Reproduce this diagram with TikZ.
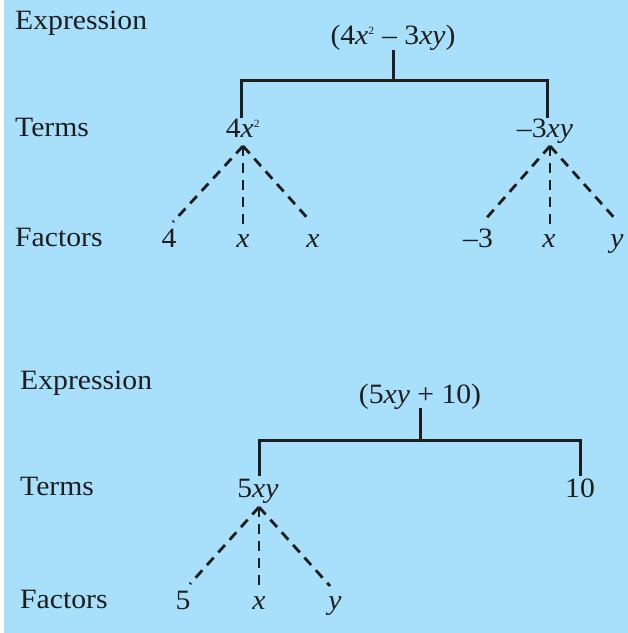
\documentclass[tikz,border=0pt]{standalone}
\usepackage{fontspec}
\setmainfont{Liberation Serif}[FakeStretch=1.06]
\definecolor{bgblue}{RGB}{168,223,250}
\definecolor{ink}{RGB}{30,30,30}
\begin{document}
\begin{tikzpicture}[x=1pt,y=-1pt,
  txt/.style={font=\fontsize{28}{30}\selectfont, inner sep=0pt, text=ink},
  rowlab/.style={txt, anchor=base west},
  item/.style={txt, anchor=base},
  conn/.style={draw=ink, line width=3pt},
  dsh/.style={draw=ink, line width=2.8pt, dash pattern=on 10pt off 7pt}]
\useasboundingbox (0,0) rectangle (628,633);
\fill[white] (0,0) rectangle (628,633);
\fill[bgblue] (4,0) rectangle (628,633);

% ---------- top tree ----------
\node[rowlab] (l1) at (15,29) {Expression};
\node[rowlab] (l2) at (15,136) {Terms};
\node[rowlab] (l3) at (15,246) {Factors};

\node[item] (e1) at (393,44) {(4\textit{x}\textsuperscript{\fontsize{11}{11}\selectfont 2} – 3\textit{xy})};
\node[item] (t1) at (243,137) {4\textit{x}\textsuperscript{\fontsize{11}{11}\selectfont 2}};
\node[item] (t2) at (545,137) {–3\textit{xy}};

\coordinate (e1b) at (393,50);
\coordinate (j1) at (393,80);
\coordinate (j1l) at (241,80);
\coordinate (j1r) at (547,80);
\coordinate (t1t) at (241,118);
\coordinate (t2t) at (547,118);
\draw[conn] (e1b) -- (j1);
\draw[conn] (t1t) -- (j1l) -- (j1r) -- (t2t);

\node[item] (f1) at (169,247) {4};
\node[item] (f2) at (243,247) {\textit{x}};
\node[item] (f3) at (313,247) {\textit{x}};
\node[item] (f4) at (478,247) {–3};
\node[item] (f5) at (549,247) {\textit{x}};
\node[item] (f6) at (617,247) {\textit{y}};

\coordinate (p1) at (243,146);
\coordinate (p2) at (550,146);
\coordinate (d1) at (173,222);
\coordinate (d2) at (243,224);
\coordinate (d3) at (311,222);
\coordinate (d4) at (483,222);
\coordinate (d5) at (550,224);
\coordinate (d6) at (618,222);
\foreach \d in {d1,d2,d3} \draw[dsh] (p1) -- (\d);
\foreach \d in {d4,d5,d6} \draw[dsh] (p2) -- (\d);

% ---------- bottom tree ----------
\node[rowlab] (m1) at (20,389) {Expression};
\node[rowlab] (m2) at (20,495) {Terms};
\node[rowlab] (m3) at (20,608) {Factors};

\node[item] (e2) at (420,403) {(5\textit{xy} + 10)};
\node[item] (s1) at (258,497) {5\textit{xy}};
\node[item] (s2) at (580,497) {10};

\coordinate (e2b) at (420,408);
\coordinate (j2) at (420,440);
\coordinate (j2l) at (259,440);
\coordinate (j2r) at (580,440);
\coordinate (s1t) at (259,476);
\coordinate (s2t) at (580,476);
\draw[conn] (e2b) -- (j2);
\draw[conn] (s1t) -- (j2l) -- (j2r) -- (s2t);

\node[item] (g1) at (183,609) {5};
\node[item] (g2) at (259,609) {\textit{x}};
\node[item] (g3) at (335,609) {\textit{y}};

\coordinate (q1) at (259,507);
\coordinate (h1) at (190,584);
\coordinate (h2) at (259,590);
\coordinate (h3) at (330,586);
\foreach \d in {h1,h2,h3} \draw[dsh] (q1) -- (\d);
\end{tikzpicture}
\end{document}
